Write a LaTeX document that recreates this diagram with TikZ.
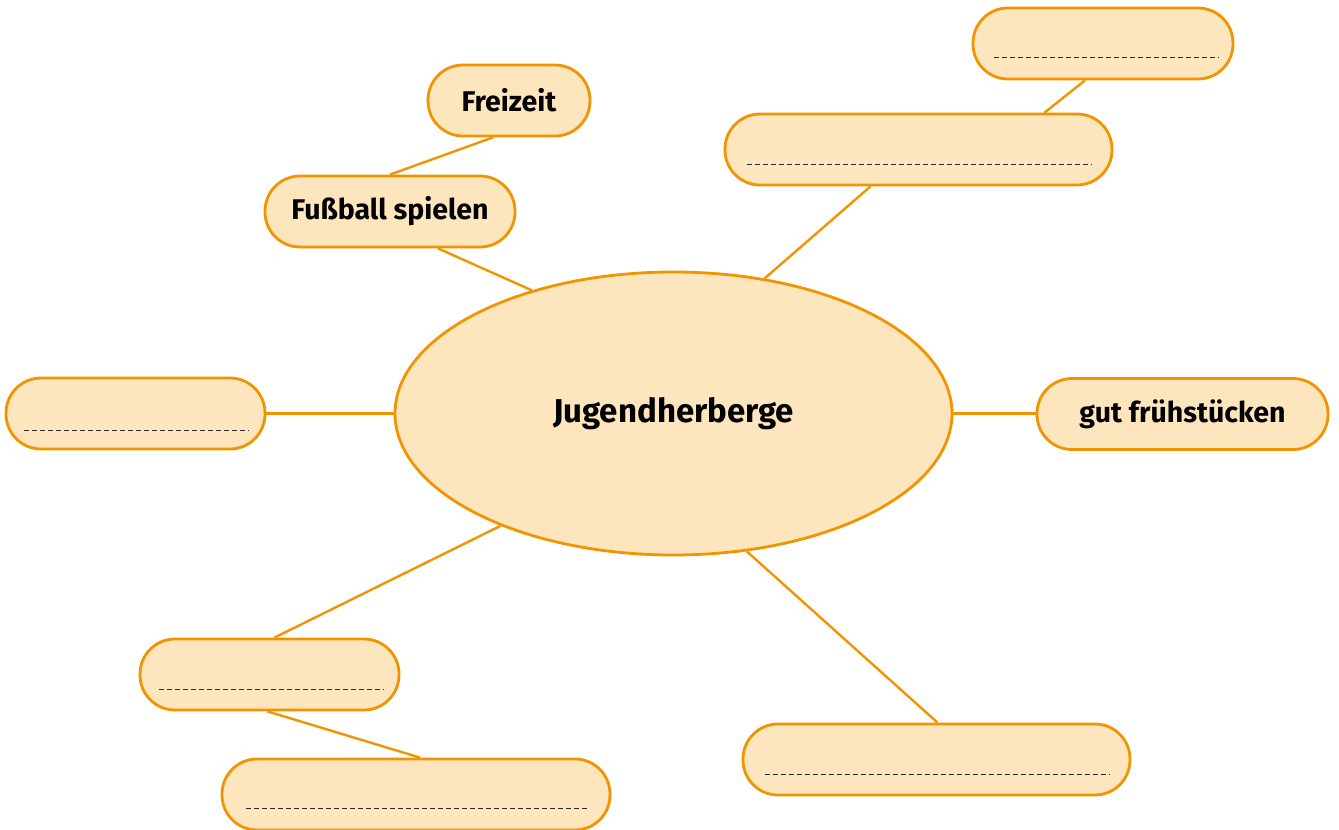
\documentclass[tikz,border=0pt]{standalone}
\usepackage{fontspec}
\setmainfont{Fira Sans}
\usetikzlibrary{shapes.geometric,calc}
\definecolor{orng}{HTML}{F29400}
\definecolor{peach}{HTML}{FDE5BE}
\definecolor{dash}{HTML}{2A2A2A}
\tikzset{
  pill/.style={draw=orng, fill=peach, line width=2.8pt, rounded corners=35pt, rectangle, inner sep=0pt, font=\fontsize{28.5}{28.5}\selectfont\bfseries},
  link/.style={draw=orng, line width=2.4pt},
  blank/.style={draw=dash, line width=1.6pt, dash pattern=on 5pt off 3pt},
}
\begin{document}
\begin{tikzpicture}[x=1pt,y=-1pt]
\useasboundingbox (0,0) rectangle (1339,830);
\node[ellipse, draw=orng, fill=peach, line width=2.8pt, minimum width=557pt, minimum height=283pt, inner sep=0pt, font=\fontsize{33}{33}\selectfont\bfseries] (E) at (673.5,413.5) {Jugendherberge};
\node[pill, minimum width=162pt, minimum height=71pt] (F) at (509,100.5) {Freizeit};
\node[pill, minimum width=250pt, minimum height=71pt] (FS) at (390,211.5) {Fußball spielen};
\node[pill, minimum width=260pt, minimum height=71pt] (TR1) at (1103,43.5) {};
\node[pill, minimum width=387pt, minimum height=71pt] (TR2) at (918.5,149.5) {};
\node[pill, minimum width=259pt, minimum height=71pt] (L) at (135.5,413.5) {};
\node[pill, minimum width=291pt, minimum height=71pt] (G) at (1182.5,414) {gut frühstücken};
\node[pill, minimum width=259pt, minimum height=71pt] (BL1) at (269.5,674.5) {};
\node[pill, minimum width=388pt, minimum height=71pt] (BL2) at (416,794.5) {};
\node[pill, minimum width=387pt, minimum height=71pt] (BR) at (936.5,759.5) {};
% dashed answer lines
\draw[blank] ([xshift=22pt,yshift=-14pt]TR1.west) -- ([xshift=-15pt,yshift=-14pt]TR1.east);
\draw[blank] ([xshift=23pt,yshift=-15pt]TR2.west) -- ([xshift=-22pt,yshift=-15pt]TR2.east);
\draw[blank] ([xshift=19pt,yshift=-17pt]L.west) -- ([xshift=-17pt,yshift=-17pt]L.east);
\draw[blank] ([xshift=20pt,yshift=-15pt]BL1.west) -- ([xshift=-16pt,yshift=-15pt]BL1.east);
\draw[blank] ([xshift=25pt,yshift=-14pt]BL2.west) -- ([xshift=-22pt,yshift=-14pt]BL2.east);
\draw[blank] ([xshift=23pt,yshift=-15pt]BR.west) -- ([xshift=-22pt,yshift=-15pt]BR.east);
% connectors
\draw[link] ([xshift=-16pt]F.south) -- (FS.north);
\draw[link] ([xshift=48pt]FS.south) -- (E.139);
\draw[link] ([xshift=-18pt]TR1.south) -- ([xshift=126pt]TR2.north);
\draw[link] ([xshift=-48pt]TR2.south) -- (E.56);
\draw[link] (L.east) -- (E.west);
\draw[link] (E.east) -- (E.east -| G.west);
\draw[link] (E.213) -- ([xshift=5pt]BL1.north);
\draw[link] ([xshift=-2pt]BL1.south) -- ([xshift=4pt]BL2.north);
\draw[link] (E.298) -- ([xshift=1pt]BR.north);
\end{tikzpicture}
\end{document}
